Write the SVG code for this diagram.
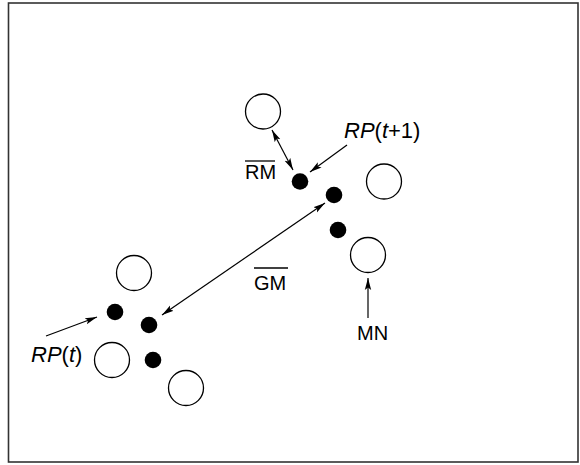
<svg xmlns="http://www.w3.org/2000/svg" width="580" height="465" viewBox="0 0 580 465">
<style>
.frame{fill:#fff;stroke:#333;stroke-width:1.6}
.open{fill:#fff;stroke:#000;stroke-width:1.3}
.dot{fill:#000}
.conn{stroke:#000;stroke-width:1.2;fill:none}
.lbl{font-family:"Liberation Sans",Arial,sans-serif;font-size:20px;fill:#000}
.big{font-size:22px}
.it{font-style:italic}
.ov{stroke:#000;stroke-width:1.3}
</style>
<defs>
<marker id="ah" viewBox="0 0 12 8" refX="12" refY="4" markerWidth="12" markerHeight="8" markerUnits="userSpaceOnUse" orient="auto-start-reverse">
<path d="M0,0.8 L12,4 L0,7.2 L2.5,4 z" fill="#000"/>
</marker>
</defs>
<rect class="frame" x="8.5" y="3" width="569.5" height="459"/>
<g id="connectors">
<line class="conn" x1="272" y1="130" x2="293" y2="170" marker-start="url(#ah)" marker-end="url(#ah)"/>
<line class="conn" x1="347" y1="145" x2="310" y2="172" marker-end="url(#ah)"/>
<line class="conn" x1="162" y1="315" x2="325" y2="203" marker-start="url(#ah)" marker-end="url(#ah)"/>
<line class="conn" x1="46" y1="336" x2="97" y2="317" marker-end="url(#ah)"/>
<line class="conn" x1="368" y1="318" x2="368" y2="278" marker-end="url(#ah)"/>
</g>
<g id="open1"><circle class="open" cx="263" cy="111.5" r="17.5"/></g>
<g id="open2"><circle class="open" cx="384" cy="181.5" r="17.5"/></g>
<g id="open3"><circle class="open" cx="368" cy="255" r="17.5"/></g>
<g id="open4"><circle class="open" cx="134" cy="273" r="17.5"/></g>
<g id="open5"><circle class="open" cx="112" cy="360" r="17.5"/></g>
<g id="open6"><circle class="open" cx="186" cy="388" r="17.5"/></g>
<g id="dot1"><circle class="dot" cx="300" cy="181.5" r="8.3"/></g>
<g id="dot2"><circle class="dot" cx="334" cy="195" r="8.3"/></g>
<g id="dot3"><circle class="dot" cx="338" cy="230" r="8.3"/></g>
<g id="dot4"><circle class="dot" cx="115" cy="312" r="8.3"/></g>
<g id="dot5"><circle class="dot" cx="149" cy="325" r="8.3"/></g>
<g id="dot6"><circle class="dot" cx="153" cy="360" r="8.3"/></g>
<g id="label-rpt1"><text class="lbl big" x="344" y="138"><tspan class="it">RP</tspan>(<tspan class="it">t</tspan>+1)</text></g>
<g id="label-rm"><text class="lbl" x="245" y="179">RM</text><line class="ov" x1="245" y1="161" x2="275" y2="161"/></g>
<g id="label-gm"><text class="lbl" x="254" y="290">GM</text><line class="ov" x1="254" y1="268" x2="288" y2="268"/></g>
<g id="label-rpt"><text class="lbl big" x="31" y="362"><tspan class="it">RP</tspan>(<tspan class="it">t</tspan>)</text></g>
<g id="label-mn"><text class="lbl" x="357" y="340">MN</text></g>
</svg>
